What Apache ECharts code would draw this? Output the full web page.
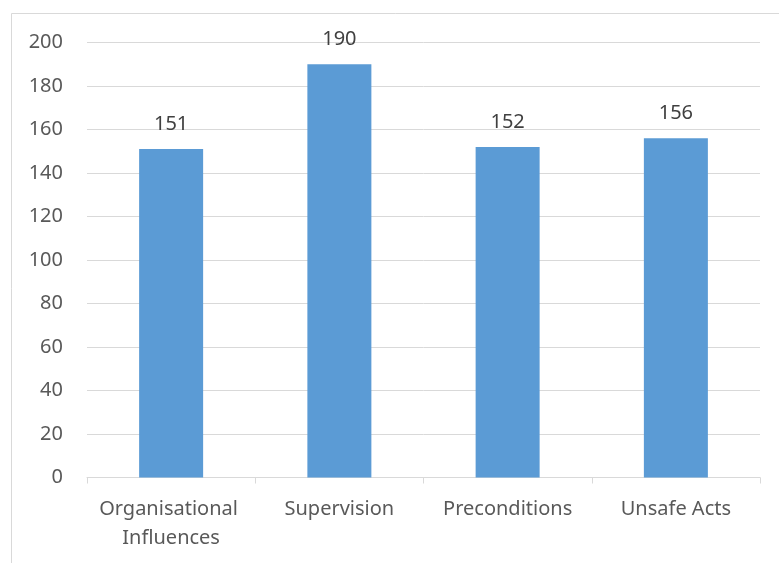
<!DOCTYPE html>
<html>
<head>
<meta charset="utf-8">
<script src="https://cdn.jsdelivr.net/npm/echarts@6/dist/echarts.min.js"></script>
<style>html,body{margin:0;padding:0;background:#fff;}#c{width:779px;height:563px;}</style>
</head>
<body>
<div id="c"></div>
<script>
var categories = ["Organisational Influences", "Supervision", "Preconditions", "Unsafe Acts"];
var values = [151, 190, 152, 156];
var yMin = 0, yMax = 200, yInterval = 20;

var chart = echarts.init(document.getElementById('c'), null, {renderer: 'canvas'});
var font = '"Noto Sans", "Open Sans", sans-serif';
chart.setOption({
  animation: false,
  backgroundColor: '#ffffff',
  graphic: [{
    type: 'rect',
    shape: {x: 11.5, y: 13.5, width: 900, height: 700},
    style: {fill: 'none', stroke: '#d9d9d9', lineWidth: 1},
    silent: true
  }],
  grid: {left: 87, right: 19, top: 42.5, bottom: 85.5, containLabel: false},
  xAxis: {
    type: 'category',
    data: categories,
    axisLine: {show: true, lineStyle: {color: '#d9d9d9', width: 1}},
    axisTick: {show: true, length: 6, lineStyle: {color: '#d9d9d9'}},
    axisLabel: {
      color: '#595959', fontFamily: font, fontSize: 20, lineHeight: 29,
      margin: 17, interval: 0, width: 160, overflow: 'break'
    },
    splitLine: {show: false}
  },
  yAxis: {
    type: 'value',
    min: yMin, max: yMax, interval: yInterval,
    axisLine: {show: false},
    axisTick: {show: false},
    axisLabel: {color: '#595959', fontFamily: font, fontSize: 20, margin: 24},
    splitLine: {show: true, lineStyle: {color: '#d9d9d9', width: 1}}
  },
  series: [{
    type: 'bar',
    data: values,
    barWidth: 64,
    itemStyle: {color: '#5b9bd5'},
    label: {
      show: true, position: 'top', distance: 15,
      color: '#404040', fontFamily: font, fontSize: 20
    }
  }]
});
</script>
</body>
</html>
